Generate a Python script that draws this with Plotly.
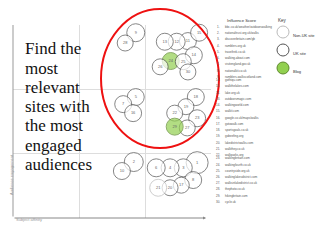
import plotly.graph_objects as go

# ---- data ----
site_ids = [1, 2, 3, 4, 5, 6, 7, 8, 9, 10, 11, 12, 13, 14, 15,
            16, 17, 18, 19, 20, 21, 22, 23, 24, 25, 26, 27, 28, 29, 30]
affinity = [2.79, 1.83, 2.58, 2.38, 1.86, 2.17, 1.67, 2.73, 1.86, 1.65, 2.65, 2.48, 2.30, 2.74, 2.82,
            1.82, 2.55, 2.77, 2.62, 2.38, 2.20, 2.45, 2.79, 2.39, 2.58, 2.23, 2.64, 1.70, 2.45, 2.65]
engagement = [0.86, 0.87, 0.78, 0.78, 1.88, 0.78, 1.77, 0.59, 2.88, 0.73, 2.75, 2.74, 2.74, 2.53, 2.88,
              1.63, 0.51, 1.88, 1.73, 0.47, 0.47, 1.63, 1.55, 2.44, 2.43, 2.35, 1.40, 2.72, 1.42, 2.27]
influence = [22, 19, 18, 18, 17, 18, 17, 17, 18, 17, 17, 17, 17, 17, 17,
             17, 16, 17, 16, 16, 17, 16, 17, 17, 16, 16, 16, 16, 17, 16]
site_type = ["UK", "UK", "UK", "UK", "UK", "UK", "UK", "UK", "UK", "UK", "UK", "UK", "UK", "UK", "UK",
             "UK", "UK", "UK", "UK", "UK", "Non-UK", "UK", "UK", "Blog", "UK", "UK", "UK", "UK", "Blog", "UK"]
site_names = ["bbc.co.uk/weather/outdoorswalking", "nationaltrust.org.uk/walks", "discoverbritain.com/gb",
              "ramblers.org.uk", "traveltrek.co.uk", "walking.about.com", "visitengland.gov.uk",
              "nationalkit.co.uk", "ramblers-walkscotland.com", "gothiqu.com", "walkthelakes.com",
              "lake.org.uk", "outdoorsmagic.com", "walkingworld.com", "walkit.com",
              "google.co.uk/maps/walks", "gotowalk.com", "sportsgoals.co.uk", "gobeefing.org",
              "lakedistrictwalks.com", "walkthey.co.uk", "walkparks.org", "walkingbritain.com",
              "walkingfourth.co.uk", "countryside.org.uk", "walkinglakesdistrict.com",
              "walksinlakedistrict.co.uk", "thephoto.co.uk", "hikingbritain.com", "cycle.uk"]
title_lines = ["Find the", "most", "relevant", "sites with", "the most", "engaged", "audiences"]
key_labels = ["Non-UK site", "UK site", "Blog"]

fill_map = {"UK": "white", "Non-UK": "white", "Blog": "#92d050"}
line_map = {"UK": "#555555", "Non-UK": "#bbbbbb", "Blog": "#5f8a2e"}

W, H = 320, 240
def px(x): return x / W
def py(y): return 1 - y / H

fig = go.Figure()
fig.add_trace(go.Scatter(
    x=affinity, y=engagement, mode="markers+text",
    text=[str(s) for s in site_ids],
    textfont=dict(size=4, color="#666666", family="Liberation Sans"),
    textposition="middle center",
    marker=dict(size=influence,
                color=[fill_map[t] for t in site_type],
                line=dict(color=[line_map[t] for t in site_type], width=1)),
    hoverinfo="skip", showlegend=False, cliponaxis=False))

annotations = []
# title text
for i, t in enumerate(title_lines):
    annotations.append(dict(x=px(23), y=py(49 + i * 19.2), xref="paper", yref="paper",
                            text=t, showarrow=False, xanchor="left", yanchor="middle",
                            font=dict(family="Liberation Serif", size=17, color="#111111")))
# axis arrows
annotations.append(dict(x=px(206), y=py(218), xref="paper", yref="paper", ax=-193, ay=0,
                        text="", showarrow=True, arrowhead=2, arrowsize=0.6, arrowwidth=1,
                        arrowcolor="#888888"))
annotations.append(dict(x=px(13), y=py(25), xref="paper", yref="paper", ax=0, ay=193,
                        text="", showarrow=True, arrowhead=0, arrowwidth=1,
                        arrowcolor="#999999"))
annotations.append(dict(x=px(8), y=py(196), xref="paper", yref="paper", text="Audience engagement",
                        textangle=-90, showarrow=False, borderpad=0, font=dict(size=4, color="#999999",
                        family="Liberation Sans")))
annotations.append(dict(x=px(15), y=py(223), xref="paper", yref="paper", text="Subject affinity",
                        xanchor="left", showarrow=False, borderpad=0, font=dict(size=4, color="#999999",
                        family="Liberation Sans")))
# list
annotations.append(dict(x=px(226), y=py(17), xref="paper", yref="paper", text="Influence Score",
                        xanchor="left", showarrow=False, borderpad=0,
                        font=dict(size=4.2, color="#333333", family="Liberation Sans")))
for i, name in enumerate(site_names):
    yy = py(24 + i * 6.24)
    annotations.append(dict(x=px(220.5), y=yy, xref="paper", yref="paper", text=f"{i+1}.",
                            xanchor="right", showarrow=False, borderpad=0,
                            font=dict(size=3, color="#555555", family="Liberation Sans")))
    annotations.append(dict(x=px(224), y=yy, xref="paper", yref="paper", text=name,
                            xanchor="left", showarrow=False, borderpad=0,
                            font=dict(size=3, color="#555555", family="Liberation Sans")))
# key
annotations.append(dict(x=px(277), y=py(17), xref="paper", yref="paper", text="Key",
                        xanchor="left", showarrow=False, borderpad=0,
                        font=dict(size=4.5, color="#333333", family="Liberation Sans")))
key_y = [32, 50, 68]
key_fill = ["white", "white", "#92d050"]
key_line = ["#bbbbbb", "#555555", "#5f8a2e"]
shapes = []
for lab, ky, kf, kl in zip(key_labels, key_y, key_fill, key_line):
    annotations.append(dict(x=px(292), y=py(ky), xref="paper", yref="paper", text=lab,
                            xanchor="left", showarrow=False, borderpad=0,
                            font=dict(size=4, color="#333333", family="Liberation Sans")))
    shapes.append(dict(type="circle", xref="paper", yref="paper",
                       x0=px(277), x1=px(289), y0=py(ky + 6), y1=py(ky - 6),
                       fillcolor=kf, line=dict(color=kl, width=1)))
# red ellipse highlight
shapes.append(dict(type="circle", xref="paper", yref="paper",
                   x0=px(101), x1=px(219), y0=py(148), y1=py(9),
                   line=dict(color="#ee1111", width=2)))

fig.update_layout(
    width=W, height=H, margin=dict(l=0, r=0, t=0, b=0),
    paper_bgcolor="white", plot_bgcolor="white",
    xaxis=dict(domain=[px(13), px(211)], range=[0, 3], tickvals=[1, 2], showticklabels=False,
               showgrid=True, gridcolor="#dddddd", gridwidth=1, zeroline=False, fixedrange=True),
    yaxis=dict(domain=[py(218), py(25)], range=[0, 3], tickvals=[1, 2], showticklabels=False,
               showgrid=True, gridcolor="#dddddd", gridwidth=1, zeroline=False, fixedrange=True),
    annotations=annotations, shapes=shapes,
)
fig.write_html("out.html")
